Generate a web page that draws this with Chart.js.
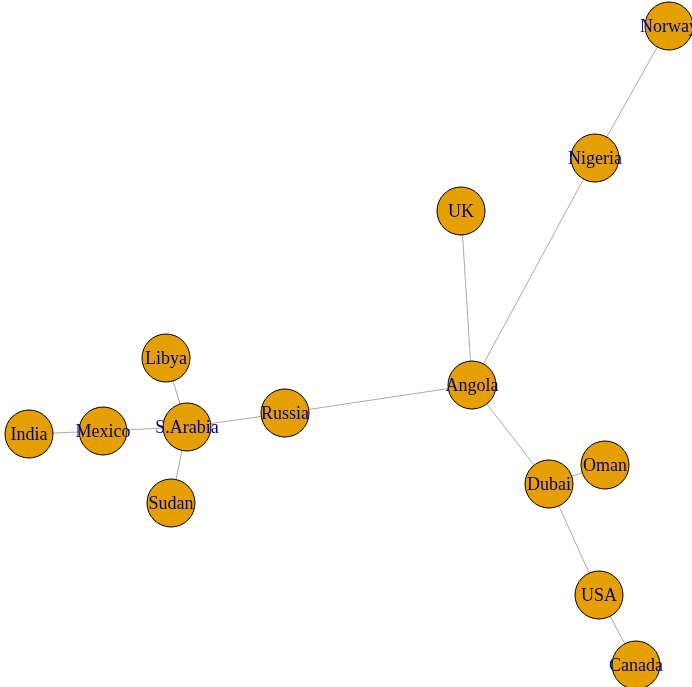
<!DOCTYPE html>
<html>
<head>
<meta charset="utf-8">
<script src="https://cdn.jsdelivr.net/npm/chart.js@4"></script>
<style>
  html, body { margin: 0; padding: 0; background: #ffffff; }
  canvas { display: block; }
</style>
</head>
<body>
<canvas id="net" width="692" height="687"></canvas>
<script>
// 네트워크 그래프 (igraph 스타일)

// 노드 이름과 레이아웃 좌표
const nodeNames = ["Norway", "Nigeria", "UK", "Angola", "Russia", "S.Arabia", "Libya",
                   "Sudan", "Mexico", "India", "Dubai", "Oman", "USA", "Canada"];
const nodeX = [669, 595, 461, 472, 285, 187, 166, 171, 103, 29, 549, 605, 599, 636];
const nodeY = [26, 158, 211, 385, 413, 427, 358, 503, 431, 434, 484, 465, 595, 665];

// 간선 (from, to)
const edgeFrom = ["Norway", "Nigeria", "UK", "Angola", "Angola", "Russia", "S.Arabia",
                  "S.Arabia", "S.Arabia", "Mexico", "Dubai", "Dubai", "USA"];
const edgeTo = ["Nigeria", "Angola", "Angola", "Russia", "Dubai", "S.Arabia", "Libya",
                "Sudan", "Mexico", "India", "Oman", "USA", "Canada"];

function nodePoint(name) {
    const i = nodeNames.indexOf(name);
    return { x: nodeX[i], y: nodeY[i] };
}

// 간선 데이터셋
let datasets = [];
for (let i = 0; i < edgeFrom.length; i++) {
    datasets.push({
        type: 'line',
        data: [nodePoint(edgeFrom[i]), nodePoint(edgeTo[i])],
        borderColor: '#A9A9A9',
        borderWidth: 1,
        pointRadius: 0,
        fill: false,
        order: 2,
        clip: false
    });
}

// 노드 데이터셋
let nodes = [];
for (let i = 0; i < nodeNames.length; i++) {
    nodes.push({ x: nodeX[i], y: nodeY[i] });
}
datasets.push({
    type: 'scatter',
    data: nodes,
    pointRadius: 24,
    pointHoverRadius: 24,
    backgroundColor: '#E69F00',
    borderColor: '#000000',
    borderWidth: 1,
    order: 1,
    clip: false
});

// 노드 라벨 그리기
const labelPlugin = {
    id: 'nodeLabels',
    afterDatasetsDraw(chart) {
        const ctx = chart.ctx;
        const meta = chart.getDatasetMeta(chart.data.datasets.length - 1);
        ctx.save();
        ctx.font = '18px "Liberation Serif", "DejaVu Serif", serif';
        ctx.fillStyle = '#00008B';
        ctx.textAlign = 'center';
        ctx.textBaseline = 'middle';
        meta.data.forEach((pt, i) => {
            ctx.fillText(nodeNames[i], pt.x, pt.y + 1);
        });
        ctx.restore();
    }
};

new Chart(document.getElementById('net'), {
    type: 'scatter',
    data: { datasets: datasets },
    options: {
        responsive: false,
        animation: false,
        devicePixelRatio: 1,
        layout: { padding: 0, autoPadding: false },
        plugins: {
            legend: { display: false },
            tooltip: { enabled: false }
        },
        scales: {
            x: { type: 'linear', min: 0, max: 692, display: false },
            y: { type: 'linear', min: 0, max: 687, reverse: true, display: false }
        }
    },
    plugins: [labelPlugin]
});
</script>
</body>
</html>
